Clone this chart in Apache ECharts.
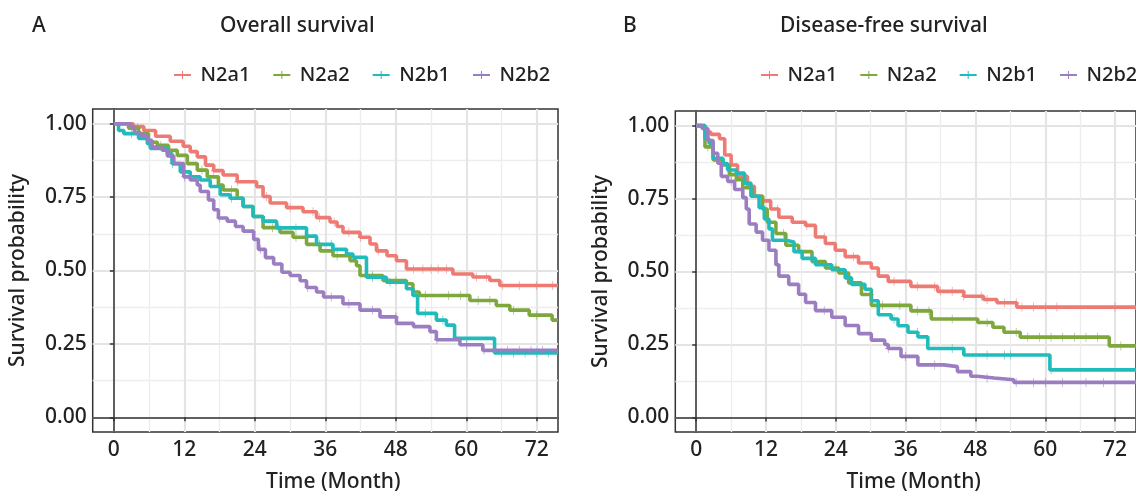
<!DOCTYPE html>
<html>
<head>
<meta charset="utf-8">
<script src="https://cdn.jsdelivr.net/npm/echarts@6/dist/echarts.min.js"></script>
<style>
  html, body { margin: 0; background: #fff; }
  #chart { width: 1136px; height: 498px; }
</style>
</head>
<body>
<div id="chart"></div>
<script>
// ---- data: [month, survival] step knots ----
const groups = ['N2a1', 'N2a2', 'N2b1', 'N2b2'];
const colors = ['#EE7B73', '#7EA83E', '#22BBBB', '#9B7EC1'];
const xTicks = [0, 12, 24, 36, 48, 60, 72];
const xMinor = [6, 18, 30, 42, 54, 66];
const yTicks = [0, 0.25, 0.5, 0.75, 1];
const yMinor = [0.125, 0.375, 0.625, 0.875];

// overall survival (panel A)
const osN2a1 = [[0,1],[3.3,0.99],[5.1,0.977],[7.1,0.957],[9.6,0.94],[11.8,0.923],[13,0.905],[14.2,0.887],[15.6,0.859],[17,0.84],[18.6,0.825],[21,0.802],[24.3,0.785],[25.4,0.752],[26.6,0.73],[29.4,0.714],[32.2,0.7],[34.5,0.68],[36.8,0.665],[38,0.65],[39,0.63],[41.9,0.613],[43.6,0.59],[44.7,0.567],[46.5,0.55],[48.1,0.533],[49.8,0.505],[57.7,0.488],[61.1,0.478],[64,0.466],[65.7,0.449],[75.6,0.449]];
const osN2a2 = [[0,1],[2.5,0.985],[4.2,0.966],[5.9,0.937],[7.4,0.926],[9.3,0.909],[10.8,0.892],[12.5,0.864],[14.2,0.842],[15.9,0.819],[17.8,0.791],[18.6,0.774],[21,0.746],[22,0.718],[23.7,0.684],[25.4,0.646],[28.3,0.63],[30.5,0.613],[32.8,0.589],[35.1,0.567],[37.3,0.55],[40.2,0.533],[41.3,0.516],[41.9,0.483],[45.8,0.466],[49.8,0.455],[50.9,0.427],[52,0.415],[60.6,0.398],[65.1,0.381],[67.4,0.365],[70.7,0.348],[74.6,0.331],[75.6,0.331]];
const osN2b1 = [[0,1],[0.8,0.977],[1.7,0.966],[4.2,0.95],[5.7,0.932],[6.2,0.916],[9.1,0.898],[9.9,0.864],[11.3,0.836],[13,0.819],[14.7,0.808],[16.4,0.786],[18.1,0.758],[19.8,0.746],[22,0.718],[23.7,0.684],[25.4,0.668],[27.7,0.645],[32.8,0.617],[34.5,0.589],[37.3,0.572],[39.6,0.556],[40.7,0.545],[43,0.477],[46.4,0.46],[49.8,0.438],[50.9,0.415],[51.7,0.354],[54.9,0.331],[56.6,0.314],[58,0.269],[64.8,0.219],[75.6,0.219]];
const osN2b2 = [[0,1],[2.8,0.99],[3.5,0.97],[4.5,0.96],[5.7,0.943],[6.5,0.92],[8.2,0.91],[9.1,0.89],[10.2,0.864],[11.9,0.819],[13,0.808],[14.2,0.791],[14.7,0.769],[16.1,0.74],[17,0.707],[17.8,0.679],[19.3,0.668],[20.7,0.65],[22,0.634],[23.8,0.606],[24.6,0.572],[25.8,0.544],[27.2,0.522],[28.6,0.494],[30,0.483],[31.7,0.465],[32.8,0.442],[34.5,0.427],[35.7,0.41],[39,0.387],[41.9,0.365],[45.3,0.342],[48.1,0.32],[51,0.309],[53.8,0.292],[54.9,0.264],[58.9,0.247],[62.8,0.228],[75.6,0.228]];

// disease-free survival (panel B)
const dfsN2a1 = [[0,1],[0.5,0.994],[1.5,0.978],[2.5,0.97],[4,0.955],[4.9,0.899],[6,0.865],[7.1,0.826],[8.8,0.792],[10,0.758],[11.4,0.742],[12.8,0.714],[14.2,0.686],[16.5,0.669],[18.8,0.658],[20.5,0.618],[22.2,0.596],[23.9,0.573],[25.6,0.551],[27.9,0.529],[30.1,0.512],[31.3,0.484],[33,0.466],[36.9,0.449],[41.5,0.432],[46,0.415],[49.4,0.404],[51.7,0.393],[55.1,0.378],[76,0.378]];
const dfsN2a2 = [[0,1],[1.5,0.927],[2.9,0.882],[4.6,0.865],[5.7,0.832],[6.9,0.815],[8,0.787],[9.7,0.758],[11.4,0.714],[12.2,0.669],[13.7,0.63],[15.4,0.59],[17.6,0.568],[19.9,0.534],[22.2,0.512],[24.5,0.495],[26.2,0.461],[28.4,0.421],[30.1,0.384],[36.9,0.365],[40.4,0.337],[48.4,0.325],[51,0.309],[52.9,0.292],[55.7,0.275],[71,0.245],[76,0.245]];
const dfsN2b1 = [[0,1],[1.5,0.955],[2.2,0.94],[2.9,0.888],[4.6,0.87],[5.4,0.848],[6.9,0.837],[8.3,0.803],[9.4,0.758],[10.8,0.719],[11.7,0.68],[12.5,0.646],[13.1,0.607],[15.4,0.601],[16.8,0.568],[18.2,0.545],[20.5,0.523],[23.3,0.506],[25.6,0.478],[26.7,0.456],[29,0.439],[30.1,0.4],[31.3,0.352],[33.5,0.337],[34.7,0.314],[36.4,0.292],[38.1,0.276],[39.8,0.236],[46,0.214],[60.8,0.163],[76,0.163]];
const dfsN2b2 = [[0,1],[1,0.99],[2,0.949],[2.9,0.905],[3.7,0.871],[4.3,0.826],[5.4,0.809],[6.6,0.781],[8,0.753],[8.6,0.714],[9.1,0.663],[10.3,0.635],[11.4,0.607],[12.5,0.573],[13.7,0.523],[14.2,0.484],[15.9,0.456],[17.6,0.422],[18.8,0.394],[20.5,0.366],[23.3,0.343],[25.6,0.315],[27.9,0.287],[30.1,0.265],[32.4,0.25],[33,0.236],[35.2,0.209],[38.1,0.18],[42.6,0.174],[44.9,0.157],[47.2,0.141],[48.3,0.135],[51.2,0.129],[54.6,0.12],[76,0.12]];

// censoring times (months)
const osCensor = [
  [17,21,26,30,33.9,35,37.5,40,42,45,51,52.6,54,55.2,56.6,61.7,63.4,66.2,69,71.9,74.7],
  [4,8,15,20,27,31,35,38,44,48,53,57,59,62,64,68,72],
  [3,10,20,28,31,37,44,47,53,56,66,68,70,72,74],
  [12,18,25,33,37,40,44,48,55,60,63,65,67,69,71,73]
];
const dfsCensor = [
  [14,19,22,27,34,38,41,42,44,46,49,50,53,55,56,58,60,62,72],
  [2,6,15,24,30,32,35,38,40,44,50,55,57,59,61,63,65,67,69,73],
  [7,20,34,38,44,50,53,54,61],
  [6,14,22,33,36,41,50,55,58,60,63,67,70]
];

const osCurves = [osN2a1, osN2a2, osN2b1, osN2b2];
const dfsCurves = [dfsN2a1, dfsN2a2, dfsN2b1, dfsN2b2];

// survival at time t on a step curve
function stepAt(curve, t) {
  let s = curve[0][1];
  for (const p of curve) { if (p[0] <= t) s = p[1]; else break; }
  return s;
}

const font = 'Noto Sans';
const ink = '#222';
const plus = 'path://M4,0H5V4H9V5H5V9H4V5H0V4H4Z';
const legendIcon = 'path://M0,3H8V0H9V3H17V5H9V8H8V5H0Z';

const grids = [
  { left: 92.7, top: 109, width: 465.3, height: 324 },
  { left: 675.3, top: 111, width: 465, height: 325 }
];

const txt = size => ({ fontFamily: font, fontSize: size, fontWeight: 500, color: ink });

function mainX(i) {
  return {
    type: 'value', gridIndex: i, min: -3.6, max: 75.6,
    name: 'Time (Month)', nameLocation: 'middle', nameGap: 40,
    nameTextStyle: Object.assign(txt(21), { padding: [0, 0, 0, 16] }),
    axisLine: { show: true, lineStyle: { color: '#333', width: 1.5 } },
    axisTick: { show: true, length: 4, customValues: xTicks, lineStyle: { color: '#333', width: 1.5 } },
    axisLabel: Object.assign(txt(21), { customValues: xTicks, margin: 8 }),
    splitLine: { show: true, lineStyle: { color: '#E4E4E4', width: 2.2 } }
  };
}
function minorX(i) {
  return {
    type: 'value', gridIndex: i, min: -3.6, max: 75.6,
    axisLine: { show: false }, axisLabel: { show: false },
    axisTick: { show: false, customValues: xMinor },
    splitLine: { show: true, lineStyle: { color: '#EDEDED', width: 1.4 } }
  };
}
function mainY(i) {
  return {
    type: 'value', gridIndex: i, min: -0.05, max: 1.05,
    name: 'Survival probability', nameLocation: 'middle', nameGap: 64,
    nameTextStyle: txt(21),
    axisLine: { show: true, lineStyle: { color: '#333', width: 1.5 } },
    axisTick: { show: true, length: 4, customValues: yTicks, lineStyle: { color: '#333', width: 1.5 } },
    axisLabel: Object.assign(txt(21), { customValues: yTicks, margin: 6, formatter: v => v.toFixed(2) }),
    splitLine: { show: true, lineStyle: { color: '#E4E4E4', width: 2.2 } }
  };
}
function minorY(i) {
  return {
    type: 'value', gridIndex: i, min: -0.05, max: 1.05,
    axisLine: { show: false }, axisLabel: { show: false },
    axisTick: { show: false, customValues: yMinor },
    splitLine: { show: true, lineStyle: { color: '#EDEDED', width: 1.4 } }
  };
}

const series = [];
[[osCurves, osCensor], [dfsCurves, dfsCensor]].forEach(([curves, censor], p) => {
  curves.forEach((curve, k) => {
    series.push({
      name: groups[k], type: 'line', step: 'end', xAxisIndex: p, yAxisIndex: p,
      data: curve, showSymbol: false, symbol: 'none', z: 3,
      color: colors[k], lineStyle: { width: 3.6, color: colors[k] }
    });
    series.push({
      name: groups[k], type: 'scatter', xAxisIndex: p, yAxisIndex: p, z: 4,
      symbol: plus, symbolSize: [6, 9], itemStyle: { color: colors[k] },
      data: censor[k].map(t => [t, stepAt(curve, t)])
    });
  });
});

function legend(left) {
  return {
    left: left, top: 60, width: 520, data: groups, icon: legendIcon,
    itemWidth: 18, itemHeight: 8, itemGap: 23,
    textStyle: Object.assign(txt(20), { padding: [0, 0, 0, 4] })
  };
}

const chart = echarts.init(document.getElementById('chart'));
chart.setOption({
  animation: false,
  backgroundColor: '#fff',
  title: [
    { text: 'A', left: 27, top: 11, textStyle: txt(21) },
    { text: 'Overall survival', left: 215, top: 11, textStyle: txt(21) },
    { text: 'B', left: 618, top: 11, textStyle: txt(21) },
    { text: 'Disease-free survival', left: 775, top: 11, textStyle: txt(21) }
  ],
  legend: [legend(169), legend(756)],
  grid: grids.map(g => Object.assign({ show: true, borderColor: '#333', borderWidth: 1.5, backgroundColor: '#fff' }, g)),
  xAxis: [mainX(0), mainX(1), minorX(0), minorX(1)],
  yAxis: [mainY(0), mainY(1), minorY(0), minorY(1)],
  series: series
});
</script>
</body>
</html>
